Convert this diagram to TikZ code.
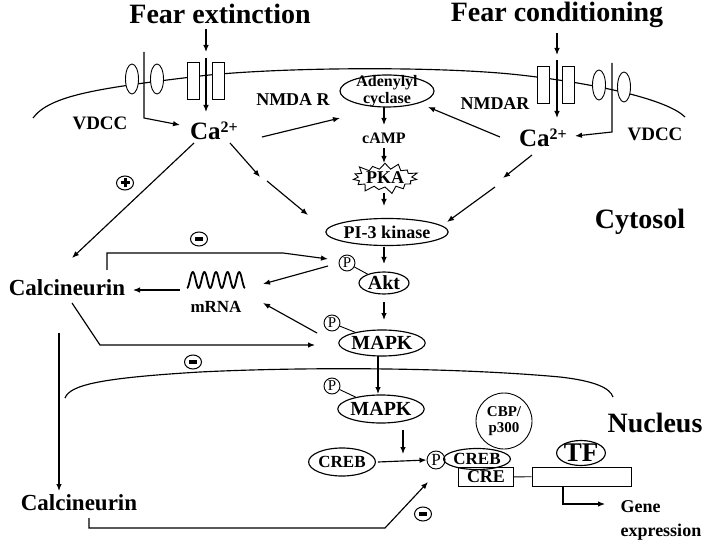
\documentclass[tikz,border=0pt]{standalone}
\usepackage{fontspec}
\setmainfont{Liberation Serif}
\usetikzlibrary{shapes.geometric,shapes.symbols,arrows.meta}
\newcommand\myfs[1]{\fontsize{#1}{#1}\selectfont}
\newcommand\caion{Ca\raisebox{7pt}{\myfs{16}2+}}
\begin{document}
\begin{tikzpicture}[x=1pt,y=-1pt, line width=1.15pt,
  >={Latex[length=7pt,width=5.5pt]},
  txt/.style={inner sep=1pt,font=\myfs{#1}\bfseries},
  ell/.style={draw,ellipse,inner sep=0pt},
  phos/.style={draw,circle,inner sep=0pt,minimum size=16pt,line width=0.9pt,font=\myfs{15}},
  sgn/.style={draw,ellipse,inner sep=0pt,minimum width=17pt,minimum height=14pt,line width=1pt},
  chan/.style={draw,fill=white,ellipse,inner sep=0pt,minimum width=13pt,minimum height=30pt,line width=0.9pt},
  rch/.style={draw,fill=white,rectangle,inner sep=0pt,minimum width=12pt,minimum height=37pt,line width=0.9pt},
  ]
\useasboundingbox (0,0) rectangle (720,545);

% titles
\node[txt=28] (fe) at (220,14) {Fear extinction};
\node[txt=28] (fc) at (557,15) {Fear conditioning};
\node[txt=28] (cyt) at (640,222) {Cytosol};
\node[txt=28] (nuc) at (655,423) {Nucleus};

% cell membrane
\draw (33,118) .. controls (50,95) and (100,88) .. (200,76)
  .. controls (280,67) and (440,66) .. (520,75)
  .. controls (600,84) and (668,100) .. (685,117);
% nuclear membrane
\draw (65,398) .. controls (70,385) and (100,378) .. (200,372)
  .. controls (300,367) and (450,367) .. (560,377)
  .. controls (595,381) and (610,388) .. (613,397);

% left channels
\node[chan] (lv1) at (132,79) {};
\node[chan] (lv2) at (157,79) {};
\node[rch] (ln1) at (193,81) {};
\node[rch] (ln2) at (218,81) {};
% right channels
\node[rch] (rn1) at (543,85) {};
\node[rch] (rn2) at (568,85) {};
\node[chan] (rv1) at (599,85) {};
\node[chan] (rv2) at (624,87) {};

% labels
\node[txt=19] (vdccl) at (100,123) {VDCC};
\node[txt=18] (nmdal) at (293,100) {NMDA R};
\node[txt=18] (nmdar) at (495,104) {NMDAR};
\node[txt=19] (vdccr) at (655,134) {VDCC};
\node[txt=25] (cal) at (214,131) {\caion};
\node[txt=25] (car) at (543,138) {\caion};

% left inputs
\coordinate (feb) at (206,52);
\draw[->] (fe.south -| feb) ++(0,4) -- (feb);
\coordinate (lp1) at (206,58); \coordinate (lp2) at (206,112);
\draw[->] (lp1) -- (lp2);
\coordinate (lq1) at (144,52); \coordinate (lq2) at (144,118); \coordinate (lq3) at (180,125);
\draw[->] (lq1) -- (lq2) -- (lq3);
% right inputs
\coordinate (fcb) at (557,55);
\draw[->] (fc.south -| fcb) ++(0,4) -- (fcb);
\coordinate (rp1) at (557,60); \coordinate (rp2) at (557,118);
\draw[->] (rp1) -- (rp2);
\coordinate (rq1) at (612,63); \coordinate (rq2) at (612,132); \coordinate (rq3) at (575,136);
\draw[->] (rq1) -- (rq2) -- (rq3);

% central cascade
\node[ell,minimum width=94pt,minimum height=32pt] (ac) at (387,91) {};
\node[txt=16,align=center] (actx) at (387,91) {\myfs{16}Adenylyl\\[1pt]cyclase};
\node[txt=16] (camp) at (384,138) {cAMP};
\node[draw,starburst,starburst points=15,starburst point height=8pt,minimum width=64pt,minimum height=34pt,inner sep=0pt,line width=0.9pt,font=\myfs{18}\bfseries] (pka) at (385,178) {PKA};
\node[ell,minimum width=104pt,minimum height=27pt,font=\myfs{18}\bfseries] (pi3) at (387,232) {PI-3 kinase};
\node[ell,minimum width=50pt,minimum height=22pt,font=\myfs{20}\bfseries] (akt) at (384,283) {Akt};
\node[ell,minimum width=80pt,minimum height=26pt,font=\myfs{20}\bfseries] (mapk) at (382,343) {MAPK};
\node[ell,minimum width=80pt,minimum height=28pt,font=\myfs{20}\bfseries] (mapkn) at (381,409) {MAPK};
\node[phos] (pakt) at (347,263) {P};
\node[phos] (pmapk) at (332,323) {P};
\node[phos] (pmapkn) at (332,386) {P};
\draw[line width=0.9pt] (pakt) -- (akt);
\draw[line width=0.9pt] (pmapk) -- (mapk);
\draw[line width=0.9pt] (pmapkn) -- (mapkn);

\coordinate (a1) at (384,107); \coordinate (a2) at (384,125);
\draw[->] (a1) -- (a2);
\coordinate (a3) at (384,148); \coordinate (a4) at (384,163);
\draw[->] (a3) -- (a4);
\coordinate (a5) at (384,193); \coordinate (a6) at (384,206);
\draw[->] (a5) -- (a6);
\coordinate (a7) at (384,247); \coordinate (a8) at (384,264);
\draw[->] (a7) -- (a8);
\coordinate (a9) at (384,302); \coordinate (a10) at (384,320);
\draw[->] (a9) -- (a10);
\coordinate (a11) at (378,356); \coordinate (a12) at (378,394);
\draw[->] (a11) -- (a12);

% Ca -> targets
\coordinate (c1) at (262,137); \coordinate (c2) at (340,118);
\draw[->] (c1) -- (c2);
\coordinate (c3) at (500,137); \coordinate (c4) at (428,107);
\draw[->] (c3) -- (c4);
\coordinate (c5) at (230,143); \coordinate (c6) at (260,177);
\draw[->] (c5) -- (c6);
\coordinate (c7) at (267,181); \coordinate (c8) at (308,215);
\draw[->] (c7) -- (c8);
\coordinate (c9) at (532,155); \coordinate (c10) at (503,178);
\draw[->] (c9) -- (c10);
\coordinate (c11) at (495,187); \coordinate (c12) at (447,222);
\draw[->] (c11) -- (c12);

% calcineurin
\node[txt=23] (cn1) at (67,288) {Calcineurin};
\node[txt=23] (cn2) at (79,503) {Calcineurin};
\coordinate (d1) at (194,143); \coordinate (d2) at (72,258);
\draw[->] (d1) -- (d2);
\node[sgn] (plus) at (125,183) {\makebox[0pt]{\rule[-1.5pt]{9pt}{3pt}}\makebox[0pt]{\rule[-4.5pt]{3pt}{9pt}}};

% mRNA
\draw[line width=1.8pt,line join=round] plot[domain=-90:1710,samples=120,smooth]
  ({187+(\x+90)/1800*58},{280-8*sin(\x)});
\node[txt=17] (mrna) at (216,307) {mRNA};

\coordinate (e1) at (107,270); \coordinate (e2) at (107,253); \coordinate (e3) at (283,253); \coordinate (e4) at (328,259);
\draw[->] (e1) -- (e2) -- (e3) -- (e4);
\node[sgn] (m1) at (199,239) {\rule{8pt}{4pt}};
\coordinate (f1) at (328,266); \coordinate (f2) at (263,284);
\draw[->] (f1) -- (f2);
\coordinate (f3) at (180,290); \coordinate (f4) at (133,290);
\draw[->] (f3) -- (f4);
\coordinate (f5) at (317,333); \coordinate (f6) at (263,303);
\draw[->] (f5) -- (f6);
\coordinate (g1) at (72,303); \coordinate (g2) at (100,345); \coordinate (g3) at (315,345);
\draw[->] (g1) -- (g2) -- (g3);
\node[sgn] (m2) at (193,362) {\rule{8pt}{4pt}};
\coordinate (h1) at (59,333); \coordinate (h2) at (59,491);
\draw[->] (h1) -- (h2);

% nucleus
\coordinate (n1) at (403,430); \coordinate (n2) at (403,454);
\draw[->] (n1) -- (n2);
\node[ell,minimum width=50pt,minimum height=28pt,font=\myfs{17}\bfseries] (creb1) at (342,462) {CREB};
\node[phos,minimum size=18pt,font=\myfs{17}] (pcreb) at (436,460) {P};
\draw[->] (creb1.east) ++(2,0) -- (pcreb.west);
\node[draw,circle,minimum size=56pt,inner sep=0pt,line width=0.9pt,font=\myfs{15}\bfseries,align=center] (cbp) at (504,421) {CBP/\\[1pt]p300};
\node[ell,minimum width=50pt,minimum height=21pt,font=\myfs{17}\bfseries] (creb2) at (477,459) {CREB};
\draw[line width=0.9pt] (pcreb) -- (creb2);
\node[draw,rectangle,minimum width=55pt,minimum height=19pt,inner sep=0pt,line width=0.9pt,font=\myfs{18}\bfseries] (cre) at (486,477) {CRE};
\node[draw,rectangle,minimum width=99pt,minimum height=19pt,inner sep=0pt,line width=0.9pt] (gene) at (581.5,476.5) {};
\draw[line width=0.9pt] (cre) -- (gene);
\node[ell,minimum width=48pt,minimum height=23pt,font=\myfs{27}\bfseries] (tf) at (581,453) {TF};
\coordinate (k1) at (563,486); \coordinate (k2) at (563,504); \coordinate (k3) at (605,504);
\draw[->] (k1) -- (k2) -- (k3);
\node[txt=18,anchor=west,align=left] (gex) at (619,520) {Gene\\[6pt]expression};

\coordinate (j1) at (89,518); \coordinate (j2) at (89,528); \coordinate (j3) at (385,528); \coordinate (j4) at (428,482);
\draw[->] (j1) -- (j2) -- (j3) -- (j4);
\node[sgn] (m3) at (423,514) {\rule{8pt}{4pt}};
\end{tikzpicture}
\end{document}
